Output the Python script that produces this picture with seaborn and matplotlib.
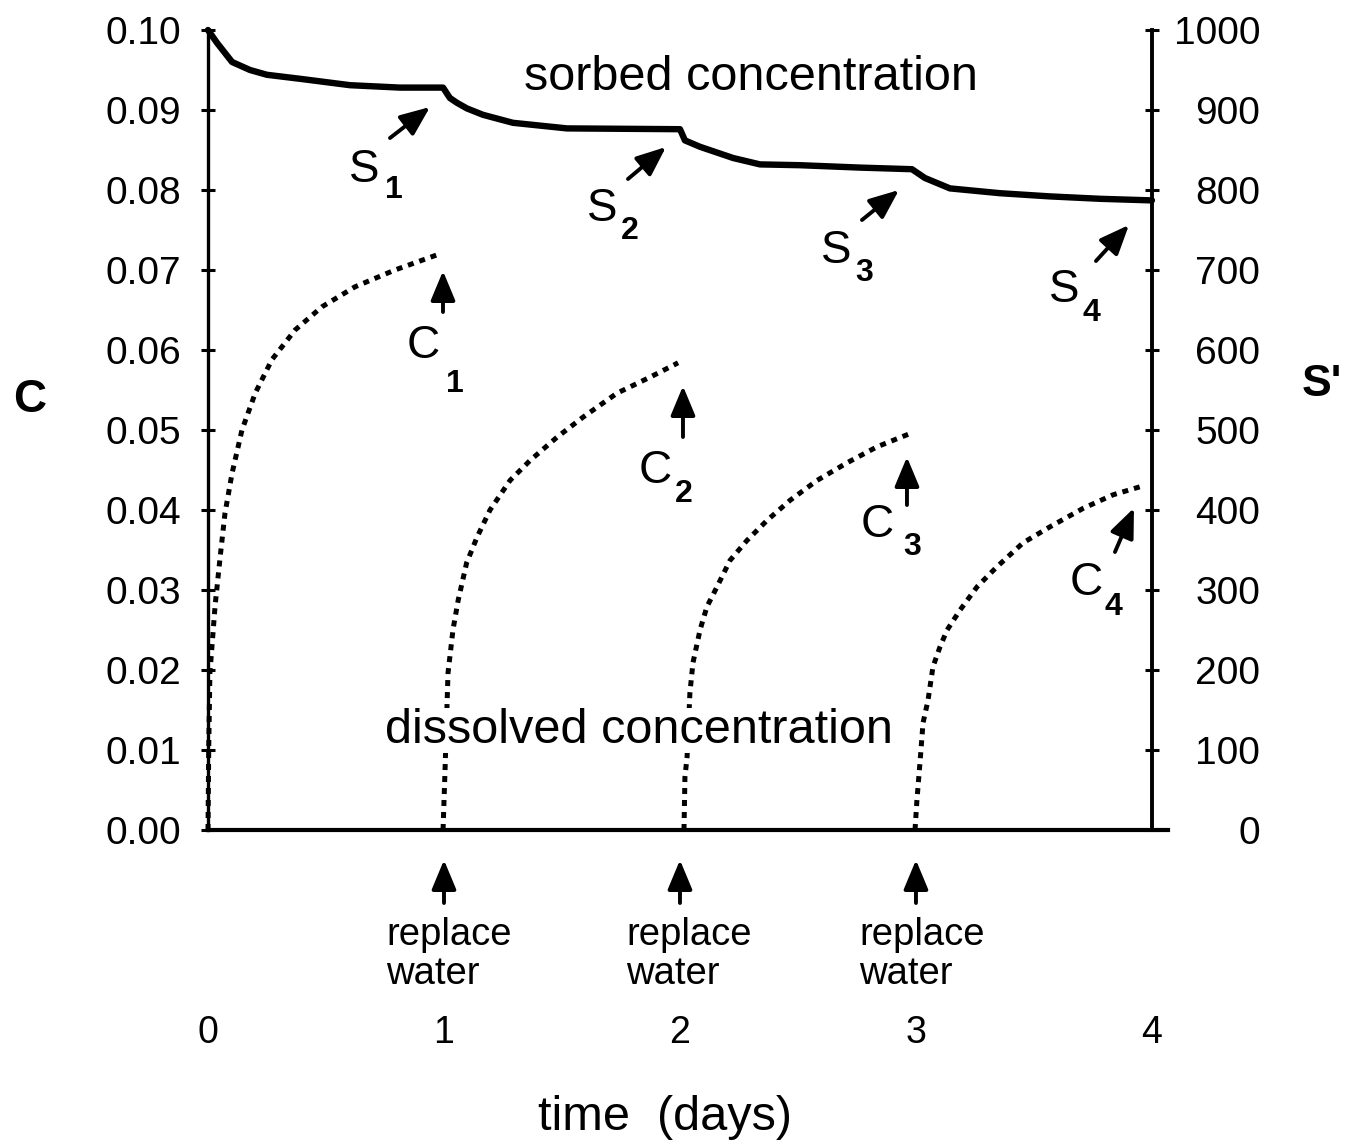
import numpy as np
import pandas as pd
import matplotlib
matplotlib.use("Agg")
import matplotlib.pyplot as plt
import seaborn as sns

# ---------------- data ----------------
# sorbed concentration S' (right axis)
sorb_t = [0.0, 0.038, 0.102, 0.178, 0.25, 0.39, 0.602, 0.814, 0.996, 1.025, 1.055, 1.097,
          1.165, 1.292, 1.521, 2.0, 2.021, 2.085, 2.225, 2.339, 2.508, 2.763, 2.983,
          3.038, 3.144, 3.356, 3.568, 3.78, 4.0]
sorb_S = [1000, 984, 960, 950, 944, 939, 931, 928, 928, 915, 909, 902,
          894, 884, 877, 876, 862, 854, 840, 832, 831, 828, 826,
          815, 802, 796, 792, 789, 787]

# dissolved concentration C (left axis), four batches
c1_t = [0.0, 0.003, 0.008, 0.03, 0.051, 0.072, 0.102, 0.144, 0.2, 0.271, 0.369, 0.483, 0.623, 0.792, 0.99]
c1_C = [0.0, 0.010, 0.0196, 0.028, 0.034, 0.0396, 0.0446, 0.050, 0.0546, 0.0588, 0.0625, 0.0654, 0.0679, 0.070, 0.0721]
c2_t = [0.996, 1.004, 1.017, 1.038, 1.06, 1.096, 1.14, 1.195, 1.28, 1.365, 1.479, 1.589, 1.733, 1.873, 1.992]
c2_C = [0.0, 0.0071, 0.0196, 0.025, 0.0287, 0.0334, 0.0366, 0.040, 0.0437, 0.0462, 0.0491, 0.0516, 0.0546, 0.0566, 0.0584]
c3_t = [2.017, 2.021, 2.03, 2.042, 2.055, 2.085, 2.114, 2.157, 2.212, 2.284, 2.369, 2.466, 2.581, 2.708, 2.835, 2.987]
c3_C = [0.0, 0.0066, 0.0091, 0.0171, 0.0209, 0.025, 0.0279, 0.0304, 0.0337, 0.0362, 0.0387, 0.0412, 0.0437, 0.0459, 0.0479, 0.0497]
c4_t = [2.996, 3.004, 3.017, 3.030, 3.051, 3.072, 3.102, 3.132, 3.187, 3.259, 3.343, 3.454, 3.568, 3.708, 3.835, 3.949]
c4_C = [0.0, 0.0037, 0.0084, 0.0134, 0.0162, 0.0204, 0.0229, 0.025, 0.0275, 0.0304, 0.0329, 0.0359, 0.0379, 0.0402, 0.0419, 0.0429]

c_ticks = [0.00, 0.01, 0.02, 0.03, 0.04, 0.05, 0.06, 0.07, 0.08, 0.09, 0.10]
s_ticks = [0, 100, 200, 300, 400, 500, 600, 700, 800, 900, 1000]
t_ticks = [0, 1, 2, 3, 4]
replace_days = [1, 2, 3]

# ---------------- figure ----------------
sns.set_style("ticks")
plt.rcParams["font.family"] = ["Liberation Sans", "DejaVu Sans"]
plt.rcParams.update({"text.color": "black", "axes.labelcolor": "black",
                     "xtick.color": "black", "ytick.color": "black",
                     "axes.edgecolor": "black"})

fig = plt.figure(figsize=(13.58, 11.45), dpi=100)
ax = fig.add_axes([208 / 1358, 315 / 1145, 960 / 1358, 800 / 1145])
ax2 = ax.twinx()

diss = pd.concat([
    pd.DataFrame({"time": t, "C": c, "seg": i})
    for i, (t, c) in enumerate([(c1_t, c1_C), (c2_t, c2_C), (c3_t, c3_C), (c4_t, c4_C)])
])
sorb = pd.DataFrame({"time": sorb_t, "S": sorb_S})

sns.lineplot(data=diss, x="time", y="C", units="seg", estimator=None, sort=False,
             color="black", ax=ax, legend=False)
sns.lineplot(data=sorb, x="time", y="S", estimator=None, sort=False,
             color="black", ax=ax2, legend=False)
for ln in ax.lines:
    ln.set_linewidth(3.6)
    ln.set_linestyle((0, (1.2, 1.2)))
    ln.set_clip_on(False)
for ln in ax2.lines:
    ln.set_linewidth(4.6)
    ln.set_solid_joinstyle("round")
    ln.set_clip_on(False)

ax.set_xlim(0, 4.068)
ax.set_ylim(0, 0.10)
ax2.set_ylim(0, 1000)

# spines
ax.spines["top"].set_visible(False)
ax.spines["right"].set_visible(False)
ax.spines["left"].set_linewidth(2.4)
ax.spines["bottom"].set_linewidth(3.0)
for s in ("top", "left", "bottom"):
    ax2.spines[s].set_visible(False)
ax2.spines["right"].set_position(("data", 4))
ax2.spines["right"].set_linewidth(2.8)

# ticks
ax.set_yticks(c_ticks)
ax.set_yticklabels([f"{v:.2f}" for v in c_ticks])
ax.tick_params(axis="y", direction="inout", length=10, width=2.2, labelsize=28, pad=14)
ax.set_xticks(t_ticks)
ax.set_xticklabels([str(v) for v in t_ticks])
ax.tick_params(axis="x", length=0, labelsize=27, pad=133)
ax2.set_yticks(s_ticks)
ax2.set_yticklabels([str(v) for v in s_ticks])
ax2.tick_params(axis="y", direction="inout", length=10, width=2.2, labelsize=28, pad=73)
for lab in ax2.get_yticklabels():
    lab.set_horizontalalignment("right")

# axis labels
ax.set_xlabel("time  (days)", fontsize=35)
ax.xaxis.label.set_va("baseline")
ax.xaxis.set_label_coords((665 - 208) / 960, (830 - 1130) / 800)
ax.set_ylabel("C", fontsize=33, fontweight="bold", rotation=0, va="center", ha="center")
ax.yaxis.set_label_coords((30 - 208) / 960, (830 - 400) / 800)
ax2.set_ylabel("S'", fontsize=32, fontweight="bold", rotation=0, va="center", ha="center")
ax2.yaxis.set_label_coords((1322 - 208) / 960, (830 - 385) / 800)


def P(x, y):
    return ((x - 208) / 236, (830 - y) / 8000)


arrow_kw = dict(arrowstyle="-|>,head_length=0.6,head_width=0.25", mutation_scale=30,
                lw=2.8, color="black", shrinkA=0, shrinkB=0)


def arrow(tail, head):
    ax.annotate("", xy=P(*head), xytext=P(*tail), arrowprops=arrow_kw, annotation_clip=False)


def label(letter, sub, pos_main, pos_sub):
    ax.text(*P(*pos_main), letter, fontsize=33, ha="left", va="baseline")
    ax.text(*P(*pos_sub), sub, fontsize=23, fontweight="bold", ha="left", va="baseline")


# S labels
label("S", "1", (349, 182), (385, 198)); arrow((390, 138), (430, 107))
label("S", "2", (587, 221), (621, 239)); arrow((628, 179), (666, 147))
label("S", "3", (821, 263), (855, 281)); arrow((862, 220), (899, 190))
label("S", "4", (1049, 302), (1083, 321)); arrow((1096, 261), (1129, 225))
# C labels
label("C", "1", (407, 358), (446, 392)); arrow((443, 312), (443, 271))
label("C", "2", (639, 483), (675, 502)); arrow((683, 437), (683, 386))
label("C", "3", (861, 537), (903, 555)); arrow((907, 505), (907, 457))
label("C", "4", (1070, 595), (1105, 615)); arrow((1115, 552), (1134, 508))

ax.text(*P(524, 90), "sorbed concentration", fontsize=35, ha="left", va="baseline")
ax.text(*P(385, 743), "dissolved concentration", fontsize=35, ha="left", va="baseline",
        bbox=dict(fc="white", ec="none", pad=0), zorder=5)

# replace water
for d, x_left in zip(replace_days, [386, 626, 859]):
    ax.annotate("", xy=(d, (830 - 860) / 8000), xytext=(d, (830 - 903) / 8000),
                arrowprops=arrow_kw, annotation_clip=False)
    ax.text(*P(x_left, 917), "replace\nwater", fontsize=27.5, ha="left", va="top", linespacing=1.1)

fig.savefig("out.png", dpi=100)
